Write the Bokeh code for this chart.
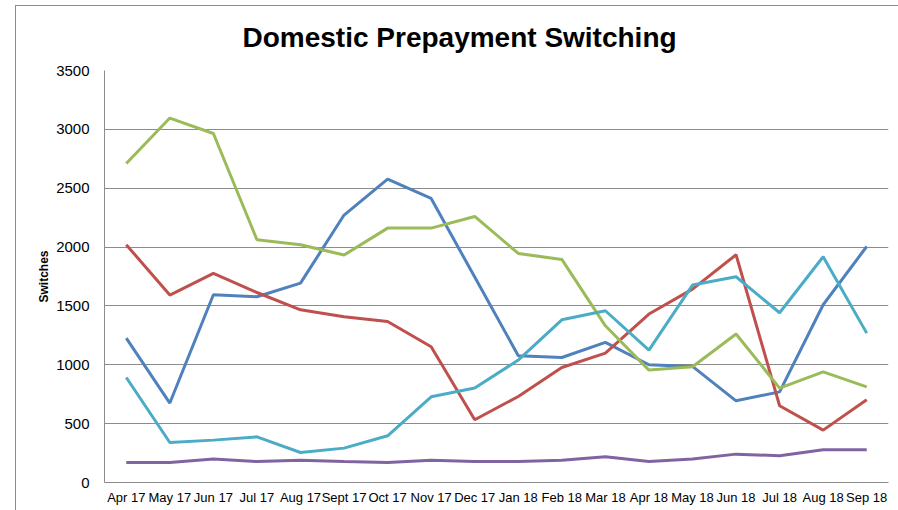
from bokeh.plotting import figure
from bokeh.models import FactorRange, FixedTicker, Title, InlineStyleSheet
from bokeh.embed import file_html
from bokeh.resources import INLINE

months = ["Apr 17", "May 17", "Jun 17", "Jul 17", "Aug 17", "Sept 17", "Oct 17", "Nov 17", "Dec 17",
          "Jan 18", "Feb 18", "Mar 18", "Apr 18", "May 18", "Jun 18", "Jul 18", "Aug 18", "Sep 18"]

series_blue = [1227, 675, 1595, 1578, 1694, 2272, 2578, 2413, 1745, 1077, 1062, 1190, 1000, 986, 694, 770, 1510, 2005]
series_red = [2020, 1592, 1776, 1614, 1467, 1408, 1368, 1153, 533, 731, 977, 1099, 1431, 1643, 1935, 652, 445, 703]
series_green = [2710, 3096, 2965, 2062, 2020, 1932, 2161, 2161, 2260, 1946, 1895, 1331, 955, 983, 1261, 802, 940, 813]
series_purple = [170, 170, 199, 178, 190, 178, 170, 190, 178, 178, 190, 218, 178, 199, 241, 227, 278, 278]
series_cyan = [892, 340, 360, 388, 255, 292, 397, 728, 802, 1040, 1382, 1459, 1125, 1677, 1748, 1442, 1918, 1269]

y_ticks = [0, 500, 1000, 1500, 2000, 2500, 3000, 3500]

p = figure(width=898, height=510, x_range=FactorRange(factors=months, range_padding=0),
           y_range=(0, 3500), output_backend="svg", toolbar_location=None,
           min_border_left=104, min_border_right=10, min_border_bottom=28, min_border_top=70)

p.title = Title(text="Domestic Prepayment Switching", align="left", offset=138, standoff=36,
                text_font="Liberation Sans", text_font_size="28px", text_font_style="bold",
                text_color="#000000")

colors = ["#4F81BD", "#C0504D", "#9BBB59", "#8064A2", "#4BACC6"]
for ys, c in zip([series_blue, series_red, series_green, series_purple, series_cyan], colors):
    p.line(months, ys, line_color=c, line_width=3)

grid_c = "#8c8c8c"
p.outline_line_color = None
p.xgrid.grid_line_color = None
p.ygrid.grid_line_color = grid_c
p.ygrid.grid_line_width = 1
p.yaxis.ticker = FixedTicker(ticks=y_ticks)
for ax in (p.xaxis, p.yaxis):
    ax.axis_line_color = grid_c
    ax.major_tick_line_color = None
    ax.minor_tick_line_color = None
    ax.major_tick_out = 0
    ax.major_tick_in = 0
    ax.minor_tick_out = 0
    ax.major_label_text_font = "Liberation Sans"
    ax.major_label_text_color = "#000000"
p.yaxis.major_label_text_font_size = "15px"
p.xaxis.major_label_text_font_size = "13px"
p.yaxis.major_label_standoff = 15
p.xaxis.major_label_standoff = 7
p.yaxis.axis_label = "Switches"
p.yaxis.axis_label_text_font = "Liberation Sans"
p.yaxis.axis_label_text_font_size = "12px"
p.yaxis.axis_label_text_font_style = "bold"
p.yaxis.axis_label_text_color = "#000000"
p.yaxis.axis_label_standoff = 2

p.stylesheets = [InlineStyleSheet(css=""":host::after {
  content: '';
  position: absolute;
  left: 15px;
  top: 5px;
  width: calc(100% - 15px);
  height: calc(100% - 5px);
  border-left: 1.5px solid #8c8c8c;
  border-top: 1.5px solid #8c8c8c;
  box-sizing: border-box;
  pointer-events: none;
  z-index: 10;
}""")]

open("out.html", "w").write(file_html(p, INLINE))
